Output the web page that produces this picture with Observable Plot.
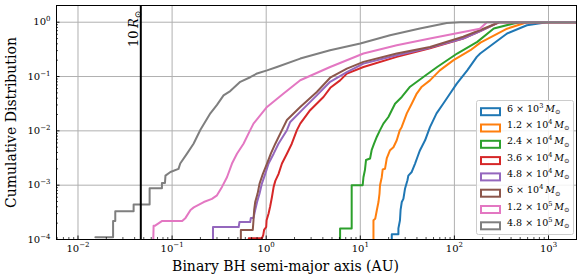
<!DOCTYPE html>
<html>
<head>
<meta charset="utf-8">
<script src="https://cdn.jsdelivr.net/npm/d3@7"></script>
<script src="https://cdn.jsdelivr.net/npm/@observablehq/plot@0.6"></script>
<style>
  html, body { margin: 0; padding: 0; background: white; }
  svg { display: block; }
</style>
</head>
<body>
<div id="chart"></div>
<script>
// ---- data ----
const xMajor = [1e-2, 1e-1, 1, 10, 100, 1000];
const yMajor = [1e-4, 1e-3, 1e-2, 1e-1, 1];
const tenRsunAU = 0.0465;

const seriesLabels = ["6 × 10^3", "1.2 × 10^4", "2.4 × 10^4", "3.6 × 10^4", "4.8 × 10^4", "6 × 10^4", "1.2 × 10^5", "4.8 × 10^5"];
const seriesColors = ["#1f77b4", "#ff7f0e", "#2ca02c", "#d62728", "#9467bd", "#8c564b", "#e377c2", "#7f7f7f"];

const m6e3 = [[21.6,5e-5],[21.6,1.25e-4],[25.4,1.25e-4],[25.4,1.6e-4],[26.4,2.26e-4],[26.8,3.5e-4],[27.6,4.9e-4],[28.7,5.6e-4],[29.9,8.7e-4],[31.7,1.23e-3],[32.4,1.5e-3],[35.2,1.75e-3],[38.2,2.5e-3],[40.5,3.3e-3],[43.1,4.4e-3],[48.8,6.7e-3],[55,0.0117],[64.6,0.021],[76,0.0316],[90,0.0486],[106,0.074],[137,0.13],[173,0.23],[188,0.265],[363,0.62],[590,0.88],[960,1],[2500,1]];
const m1_2e4 = [[13.8,5e-5],[13.8,2.26e-4],[14.4,2.4e-4],[15,3.5e-4],[15.6,4.9e-4],[16,7e-4],[16.2,1.0e-3],[16.9,1.4e-3],[17.3,1.95e-3],[18.3,2.0e-3],[19.1,3.1e-3],[20.7,4.4e-3],[22.5,5.0e-3],[24.4,6.7e-3],[26.3,0.0103],[27.5,0.0117],[31.2,0.021],[35.2,0.0316],[39.8,0.0486],[45,0.065],[55,0.085],[70,0.13],[98,0.20],[148,0.305],[189,0.42],[363,0.76],[590,1],[2500,1]];
const m2_4e4 = [[6.1,5e-5],[6.1,1.6e-4],[8.1,1.6e-4],[8.1,1.0e-3],[10.6,1.0e-3],[10.8,1.4e-3],[11.2,1.9e-3],[11.5,2.9e-3],[12.7,3.1e-3],[13.2,4.4e-3],[14,5.8e-3],[15,7.8e-3],[16.2,0.0103],[17.6,0.0136],[19.9,0.018],[21.6,0.024],[23.4,0.0316],[27.6,0.042],[33.8,0.065],[46.8,0.098],[65.6,0.15],[107,0.265],[175,0.434],[262,0.764],[428,0.95],[503,1],[2500,1]];
const m3_6e4 = [[0.653,5e-5],[0.653,1.05e-4],[0.9,1.05e-4],[0.93,1.2e-4],[0.95,1.5e-4],[1.0,1.7e-4],[1.01,2.26e-4],[1.06,3e-4],[1.1,4e-4],[1.15,6e-4],[1.2,9.3e-4],[1.25,1.2e-3],[1.35,1.6e-3],[1.47,2.5e-3],[1.66,3.8e-3],[1.87,5.8e-3],[2.12,0.0103],[2.3,0.0136],[2.93,0.024],[4.06,0.042],[4.8,0.062],[6.1,0.085],[7.2,0.113],[10.8,0.15],[24.4,0.23],[55,0.33],[124,0.50],[186,0.68],[300,1],[2500,1]];
const m4_8e4 = [[0.272,5e-5],[0.272,1.7e-4],[0.51,1.7e-4],[0.52,2.1e-4],[0.676,2.1e-4],[0.687,2.5e-4],[0.733,2.5e-4],[0.764,3.5e-4],[0.8,4.9e-4],[0.85,7e-4],[0.9,1.07e-3],[0.975,1.6e-3],[1.06,2.5e-3],[1.2,3.8e-3],[1.35,5.8e-3],[1.66,0.0103],[1.8,0.0146],[2.49,0.0257],[3.45,0.045],[4.78,0.08],[7.2,0.12],[10.8,0.173],[24.4,0.247],[55,0.34],[124,0.50],[186,0.68],[300,1],[2500,1]];
const m6e4 = [[0.538,5e-5],[0.538,1.5e-4],[0.72,1.5e-4],[0.733,2.26e-4],[0.745,3.5e-4],[0.764,4.9e-4],[0.81,7e-4],[0.85,1.07e-3],[0.92,1.6e-3],[1.02,2.5e-3],[1.12,3.8e-3],[1.25,5.8e-3],[1.47,0.0103],[1.66,0.0158],[2.3,0.0275],[3.45,0.052],[4.78,0.095],[7.2,0.14],[10.8,0.186],[24.4,0.265],[55,0.35],[124,0.54],[186,0.71],[300,1],[2500,1]];
const m1_2e5 = [[0.0626,5e-5],[0.0636,1.8e-4],[0.066,1.8e-4],[0.0785,2.2e-4],[0.128,2.2e-4],[0.139,2.5e-4],[0.157,3.5e-4],[0.17,3.9e-4],[0.217,4.9e-4],[0.265,5.6e-4],[0.30,6.5e-4],[0.339,9.3e-4],[0.383,1.4e-3],[0.433,2.5e-3],[0.489,3.8e-3],[0.574,5.8e-3],[0.676,0.0103],[0.733,0.0136],[1.02,0.0275],[1.53,0.0486],[2.3,0.0855],[4.78,0.15],[10.8,0.265],[24.4,0.377],[55,0.50],[124,0.66],[186,0.76],[222,1],[2500,1]];
const m4_8e5 = [[0.0153,1.1e-4],[0.0236,1.1e-4],[0.0236,2.2e-4],[0.0249,2.2e-4],[0.0249,3.3e-4],[0.039,3.3e-4],[0.039,4.4e-4],[0.0577,4.4e-4],[0.0577,8.8e-4],[0.078,8.8e-4],[0.078,1.1e-3],[0.084,1.1e-3],[0.085,1.5e-3],[0.096,1.75e-3],[0.117,2.0e-3],[0.122,2.5e-3],[0.144,3.8e-3],[0.169,5.8e-3],[0.2,0.0105],[0.255,0.021],[0.30,0.030],[0.352,0.045],[0.415,0.054],[0.53,0.080],[0.676,0.097],[0.80,0.114],[1.02,0.13],[1.30,0.150],[2.3,0.214],[4.77,0.305],[10,0.405],[20.7,0.576],[43,0.764],[83,0.97],[115,1],[2500,1]];

const seriesData = [m6e3, m1_2e4, m2_4e4, m3_6e4, m4_8e4, m6e4, m1_2e5, m4_8e5];

// minor tick positions for the log axes
function minorTicks(lo, hi) {
  const out = [];
  for (let k = Math.floor(Math.log10(lo)); k <= Math.ceil(Math.log10(hi)); k++)
    for (let m = 2; m <= 9; m++) { const v = m * 10 ** k; if (v >= lo && v <= hi) out.push(v); }
  return out;
}
const xDomain = [0.00591, 1984];
const yDomain = [1e-4, 2.03];
const frameH = 278 - 5 - 39;
const frameW = 581 - 56 - 5;
const fmtPow = d => "10^" + Math.round(Math.log10(d));

const chart = Plot.plot({
  width: 581, height: 278,
  marginLeft: 56, marginRight: 5, marginTop: 5, marginBottom: 39,
  x: {type: "log", domain: xDomain},
  y: {type: "log", domain: yDomain},
  style: {fontFamily: "DejaVu Serif", background: "white", color: "black"},
  marks: [
    Plot.gridX(xMajor, {stroke: "#b0b0b0", strokeOpacity: 1, strokeWidth: 1}),
    Plot.gridY(yMajor, {stroke: "#b0b0b0", strokeOpacity: 1, strokeWidth: 1}),
    ...seriesData.map((s, i) => Plot.line(s, {x: d => d[0], y: d => d[1], stroke: seriesColors[i], strokeWidth: 2, clip: true})),
    Plot.ruleX([tenRsunAU], {stroke: "black", strokeWidth: 2}),
    Plot.text([tenRsunAU], {x: d => d, frameAnchor: "top", text: () => "10R", rotate: -90, textAnchor: "end", lineAnchor: "bottom", dy: 5, dx: -3, fontSize: 13}),
    Plot.frame({stroke: "black", strokeWidth: 1}),
    Plot.tickX(xMajor, {x: d => d, insetTop: frameH - 3.5, stroke: "black", strokeWidth: 0.9}),
    Plot.tickX(minorTicks(xDomain[0], xDomain[1]), {x: d => d, insetTop: frameH - 2, stroke: "black", strokeWidth: 0.7}),
    Plot.tickY(yMajor, {y: d => d, insetRight: frameW - 3.5, stroke: "black", strokeWidth: 0.9}),
    Plot.tickY(minorTicks(yDomain[0], 1), {y: d => d, insetRight: frameW - 2, stroke: "black", strokeWidth: 0.7}),
    Plot.axisX(xMajor, {tickSize: 0, tickPadding: 5, tickFormat: fmtPow, fontSize: 10, label: null}),
    Plot.axisY(yMajor, {tickSize: 0, tickPadding: 6, tickFormat: fmtPow, fontSize: 10, label: null}),
    Plot.text(["Binary BH semi-major axis (AU)"], {frameAnchor: "bottom", dy: 27, dx: -31, fontSize: 14, lineAnchor: "middle", textAnchor: "middle"}),
    Plot.text(["Cumulative Distribution"], {frameAnchor: "left", dx: -45, rotate: -90, fontSize: 14, lineAnchor: "middle", textAnchor: "middle"})
  ]
});

document.getElementById("chart").appendChild(chart);
const svg = d3.select(chart);

// math-like text helper
function setParts(el, parts, baseSize) {
  const t = d3.select(el);
  t.text(null);
  let shift = 0;
  for (const p of parts) {
    const ts = t.append("tspan").text(p.t);
    let target = 0;
    if (p.sup) target = -0.42 * baseSize;
    if (p.sub) target = 0.25 * baseSize;
    ts.attr("dy", target - shift);
    shift = target;
    if (p.sup || p.sub) ts.attr("font-size", (baseSize * 0.7).toFixed(1));
    if (p.it) ts.attr("font-style", "italic");
  }
}

svg.selectAll("text").each(function() {
  const s = this.textContent;
  const m = s.match(/^10\^(-?\d+)$/);
  if (m) {
    setParts(this, [{t: "10"}, {t: m[1].replace("-", "\u2212"), sup: true}], 10);
  } else if (s === "10R") {
    setParts(this, [{t: "10\u2009"}, {t: "R", it: true}, {t: "\u2299", sub: true}], 13);
  }
});

// legend
const lg = svg.append("g").attr("font-family", "DejaVu Serif").attr("text-anchor", "start");
lg.append("rect").attr("x", 476.5).attr("y", 100.5).attr("width", 97).attr("height", 134)
  .attr("rx", 2).attr("fill", "white").attr("fill-opacity", 0.85).attr("stroke", "#cccccc");
seriesLabels.forEach((lab, i) => {
  const cy = 111.7 + i * 16.3;
  lg.append("rect").attr("x", 481).attr("y", cy - 3.5).attr("width", 19).attr("height", 7)
    .attr("fill", "white").attr("stroke", seriesColors[i]).attr("stroke-width", 2);
  const [mant, exp] = lab.split("^");
  const txt = lg.append("text").attr("x", 507).attr("y", cy).attr("dy", "0.35em")
    .attr("font-size", 9.5).attr("text-anchor", "start");
  setParts(txt.node(), [{t: mant}, {t: exp, sup: true}, {t: "\u2009"}, {t: "M", it: true}, {t: "\u2299", sub: true}], 9.5);
});
</script>
</body>
</html>
